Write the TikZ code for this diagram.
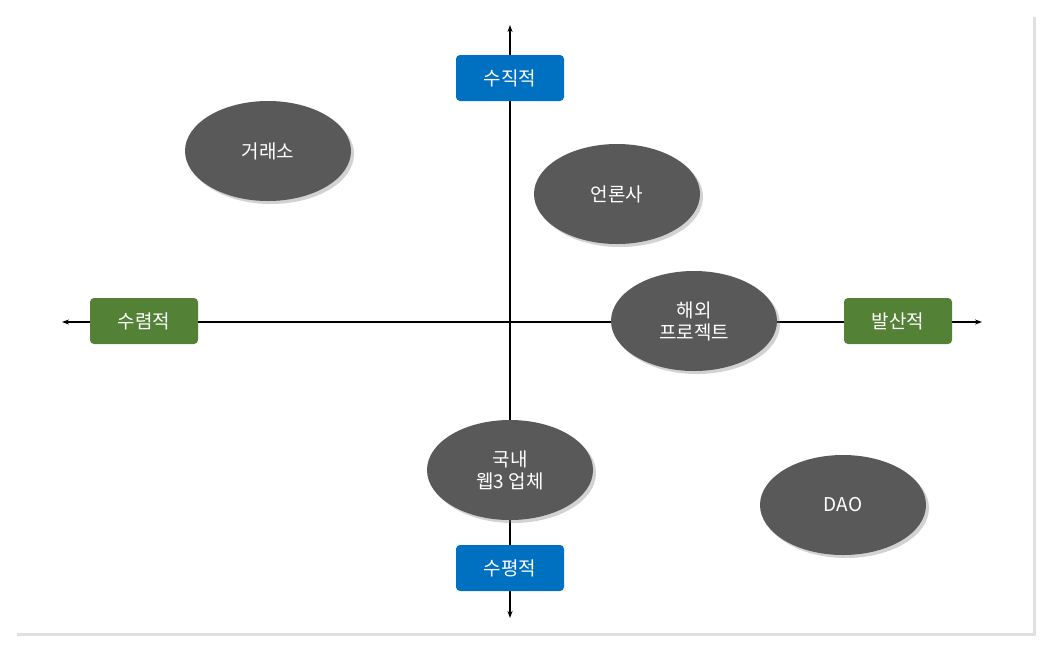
\documentclass[tikz,border=0pt]{standalone}
\usepackage{fontspec}
\setmainfont{Noto Sans CJK KR}
\usetikzlibrary{shadows,arrows.meta,shapes.geometric}
\definecolor{ell}{HTML}{595959}
\definecolor{bl}{HTML}{0070C0}
\definecolor{gr}{HTML}{538135}
\tikzset{
 x=1pt,y=-1pt,
 bub/.style={ellipse,fill=ell,text=white,minimum width=166pt,minimum height=100pt,align=center,font=\fontsize{19}{22}\selectfont,inner sep=0pt,drop shadow={shadow xshift=3pt,shadow yshift=-3pt,opacity=0.35}},
 tag/.style={rounded corners=4pt,text=white,minimum width=108pt,minimum height=46pt,font=\fontsize{19}{22}\selectfont,inner sep=0pt},
 ax/.style={line width=1.2pt,-{Stealth[length=7pt,width=5pt]}}
}
\begin{document}
\begin{tikzpicture}
\useasboundingbox (0,0) rectangle (1048,649);
\fill[black!12] (17,17) rectangle (1036,636);
\fill[white] (15,15) rectangle (1033,633);
\coordinate (t) at (510,25); \coordinate (b) at (510,618);
\coordinate (l) at (62,322); \coordinate (r) at (982,322);
\coordinate (o) at (510,322);
\draw[ax] (o) -- (t); \draw[ax] (o) -- (b);
\draw[ax] (o) -- (l); \draw[ax] (o) -- (r);
\node[tag,fill=bl] (n) at (510,78) {수직적};
\node[tag,fill=bl] (s) at (510,568) {수평적};
\node[tag,fill=gr] (w) at (144,321) {수렴적};
\node[tag,fill=gr] (e) at (898,321) {발산적};
\node[bub] (a) at (268,151) {거래소};
\node[bub] (c) at (617,194) {언론사};
\node[bub] (h) at (694,321) {해외\\프로젝트};
\node[bub] (k) at (510,470) {국내\\웹3 업체};
\node[bub] (d) at (843,505) {DAO};
\end{tikzpicture}
\end{document}
